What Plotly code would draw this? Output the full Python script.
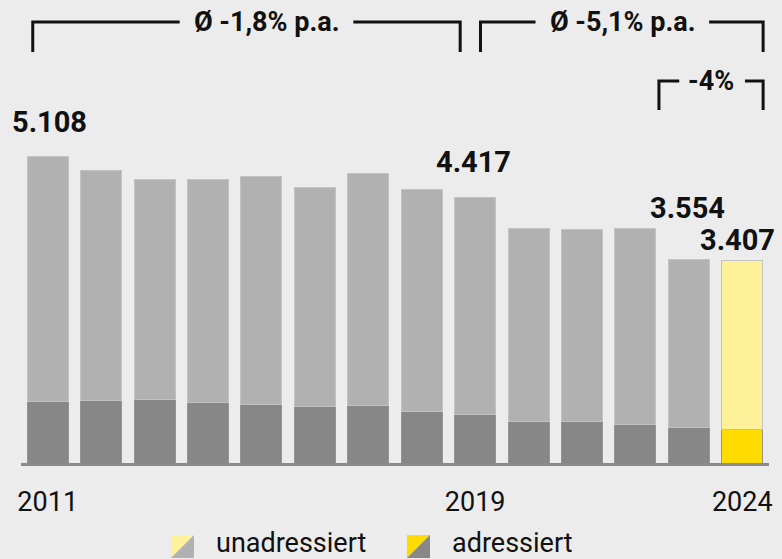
import plotly.graph_objects as go

years = list(range(2011, 2025))
# totals (in thousand t)
totals = [5108, 4879, 4729, 4724, 4763, 4596, 4813, 4558, 4417, 3908, 3885, 3913, 3397, 3364]
adressiert = [1032, 1038, 1055, 1005, 966, 949, 955, 866, 816, 694, 683, 638, 583, 566]
unadressiert = [t - a for t, a in zip(totals, adressiert)]

label_years = [2011, 2019, 2023, 2024]
label_texts = ['5.108', '4.417', '3.554', '3.407']
tick_years = [2011, 2019, 2024]

BG = '#ececec'
LIGHT_GRAY = '#b1b1b1'
DARK_GRAY = '#878787'
LIGHT_YELLOW = '#fff09a'
YELLOW = '#ffdc00'
FONT = 'Roboto'

top_colors = [LIGHT_GRAY] * (len(years) - 1) + [LIGHT_YELLOW]
bottom_colors = [DARK_GRAY] * (len(years) - 1) + [YELLOW]

fig = go.Figure()
fig.add_trace(go.Bar(
    x=years, y=adressiert, name='adressiert',
    marker=dict(color=bottom_colors, line=dict(color='#959595', width=1)),
    hoverinfo='skip'
))
fig.add_trace(go.Bar(
    x=years, y=unadressiert, name='unadressiert',
    marker=dict(color=top_colors, line=dict(color='#c2c2c2', width=1)),
    hoverinfo='skip'
))

# value labels above selected bars
shifts = {2011: (2, 34), 2019: (-2, 36), 2023: (-1, 51), 2024: (-5, 21)}
annotations = []
for yr, txt in zip(label_years, label_texts):
    dx, dy = shifts[yr]
    annotations.append(dict(
        x=yr, y=totals[years.index(yr)], text=txt, showarrow=False,
        xanchor='center', yanchor='middle', xshift=dx, yshift=dy,
        font=dict(family=FONT, size=29, color='#111111', weight='bold')
    ))

# brackets for growth rates
shapes = []
def bracket(x0, x1, gap0, gap1, ytop, ybot, text, tx):
    lw = dict(color='#111111', width=3)
    shapes.append(dict(type='path', xref='x', yref='y', line=lw,
                       path=f'M {x0},{ybot} L {x0},{ytop} L {gap0},{ytop}'))
    shapes.append(dict(type='path', xref='x', yref='y', line=lw,
                       path=f'M {gap1},{ytop} L {x1},{ytop} L {x1},{ybot}'))
    annotations.append(dict(x=tx, y=ytop, text=text, showarrow=False,
                            xanchor='center', yanchor='middle', yshift=0,
                            font=dict(family=FONT, size=27, color='#111111', weight='bold')))

bracket(2010.72, 2018.72, 2013.47, 2016.72, 7344, 6844, 'Ø -1,8% p.a.', 2015.1)
bracket(2019.10, 2024.39, 2020.13, 2023.38, 7344, 6844, 'Ø -5,1% p.a.', 2021.76)
bracket(2022.44, 2024.39, 2022.82, 2024.05, 6361, 5878, '-4%', 2023.42)

# custom legend with split swatches
def swatch(x0, x1, y0, y1, c_top, c_bot, text, tx):
    shapes.append(dict(type='path', xref='paper', yref='paper', line=dict(width=0),
                       fillcolor=c_top, path=f'M {x0},{y1} L {x0},{y0} L {x1},{y0} Z'))
    shapes.append(dict(type='path', xref='paper', yref='paper', line=dict(width=0),
                       fillcolor=c_bot, path=f'M {x0},{y1} L {x1},{y0} L {x1},{y1} Z'))
    annotations.append(dict(x=tx, y=(y0 + y1) / 2 + 0.007, xref='paper', yref='paper', text=text,
                            showarrow=False, xanchor='left', yanchor='middle',
                            font=dict(family=FONT, size=27, color='#111111')))

swatch(0.2005, 0.2313, -0.1555, -0.2052, LIGHT_YELLOW, LIGHT_GRAY, 'unadressiert', 0.258)
swatch(0.5160, 0.5468, -0.1555, -0.2052, YELLOW, DARK_GRAY, 'adressiert', 0.5735)

fig.update_layout(
    barmode='stack',
    bargap=0.234,
    width=782, height=559,
    margin=dict(l=21, r=13, t=0, b=96),
    paper_bgcolor=BG,
    plot_bgcolor=BG,
    showlegend=False,
    xaxis=dict(
        range=[2010.5, 2024.5],
        tickmode='array', tickvals=tick_years, ticktext=[str(y) for y in tick_years],
        ticks='', showgrid=False, zeroline=False,
        showline=True, linecolor='#8a8a8a', linewidth=3,
        ticklabelstandoff=13,
        tickfont=dict(family=FONT, size=27, color='#111111'),
        fixedrange=True
    ),
    yaxis=dict(range=[0, 7710], visible=False, fixedrange=True),
    shapes=shapes,
    annotations=annotations,
)

fig.write_html('out.html', config={'displayModeBar': False},
               post_script="document.body.style.margin='0';document.body.style.background='#ececec';")
